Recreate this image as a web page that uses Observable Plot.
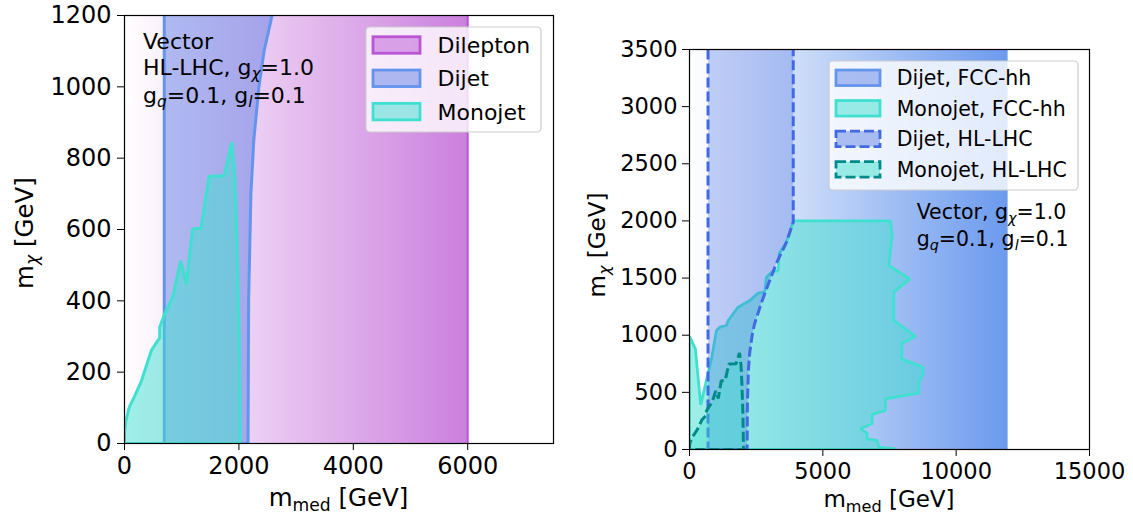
<!DOCTYPE html>
<html><head><meta charset="utf-8">
<script src="https://cdn.jsdelivr.net/npm/d3@7"></script>
<script src="https://cdn.jsdelivr.net/npm/@observablehq/plot@0.6"></script>
<style>
body{margin:0;background:#fff;}
#wrap{position:relative;width:1133px;height:515px;overflow:hidden;font-family:"DejaVu Sans",sans-serif;}
.panel{position:absolute;top:0;}
</style></head><body><div id="wrap"></div>
<script>
// ---------- data ----------
const leftXDomain = [0, 7500];
const leftYDomain = [0, 1200];
const leftXTicks = [0, 2000, 4000, 6000];
const leftYTicks = [0, 200, 400, 600, 800, 1000, 1200];
const rightXDomain = [0, 15000];
const rightYDomain = [0, 3500];
const rightXTicks = [0, 5000, 10000, 15000];
const rightYTicks = [0, 500, 1000, 1500, 2000, 2500, 3000, 3500];

// Dilepton (HL-LHC) excluded m_med range
const dileptonRange = [0, 6000];
// Dijet FCC-hh excluded m_med range
const dijetFCCRange = [0, 11900];

// Dijet HL-LHC: lower m_med edge and upper boundary curve
const dijetHLLow = 695;
const dijetHLCurveY = [0, 400, 700, 850, 1000, 1100, 1200, 1300, 1450, 1630, 1810, 1990, 3500];
const dijetHLCurveX = [2160, 2170, 2210, 2260, 2350, 2440, 2580, 2720, 2960, 3260, 3630, 3890, 3890];

// Monojet HL-LHC contour
const monoHLX = [0, 0, 20, 75, 90, 175, 295, 470, 615, 615, 700, 840, 985, 1080, 1190, 1335, 1480, 1745, 1875, 1930, 1960, 1985, 2005, 2025, 0];
const monoHLY = [0, 30, 60, 97, 104, 132, 175, 261, 296, 326, 363, 410, 513, 447, 602, 602, 749, 751, 845, 740, 600, 440, 300, 0, 0];

// Monojet FCC-hh contour
const monoFCCX = [0, 0, 220, 420, 830, 1012, 1137, 1387, 1450, 1825, 2262, 2575, 2825, 2887, 3075, 3325, 3362, 3637, 3900, 7537, 7600, 7475, 8262, 7662, 7662, 8475, 7975, 7950, 8762, 8762, 8600, 8600, 7350, 7350, 6850, 6850, 6412, 6662, 6662, 7037, 7100, 7725, 7725, 0];
const monoFCCY = [0, 990, 880, 390, 800, 1041, 1070, 1085, 1129, 1245, 1304, 1368, 1377, 1508, 1552, 1566, 1712, 1814, 2000, 2000, 1872, 1610, 1493, 1377, 1129, 989, 930, 793, 720, 662, 589, 493, 443, 341, 306, 225, 181, 143, 93, 79, 20, 6, 0, 0];

// ---------- build ----------
const pts = (xs, ys) => xs.map((x, i) => ({x, y: ys[i]}));
const topY = dijetHLCurveY[dijetHLCurveY.length - 1];
const dijetCurve = pts(dijetHLCurveX, dijetHLCurveY);
// closed polygon for fill
const dijetHL = [{x: dijetHLLow, y: 0}, {x: dijetHLLow, y: topY}]
  .concat(dijetCurve.slice().reverse())
  .concat([{x: dijetHLLow, y: 0}]);
// outline without the top edge
const dijetHLEdge = [{x: dijetHLLow, y: topY}, {x: dijetHLLow, y: 0}].concat(dijetCurve);
const monoHL = pts(monoHLX, monoHLY);
const monoFCC = pts(monoFCCX, monoFCCY);
const fmt = d3.format("d");

const wrap = d3.select("#wrap");

function addGradient(svg, id, color, op) {
  let defs = d3.select(svg).select("defs");
  if (defs.empty()) defs = d3.select(svg).insert("defs", ":first-child");
  const g = defs.append("linearGradient").attr("id", id)
    .attr("x1", 0).attr("x2", 1).attr("y1", 0).attr("y2", 0);
  g.append("stop").attr("offset", 0).attr("stop-color", color).attr("stop-opacity", 0);
  g.append("stop").attr("offset", 1).attr("stop-color", color).attr("stop-opacity", op);
}

function rich(sel, parts, size) {
  parts.forEach(p => {
    const ts = sel.append("tspan").text(p.t);
    if (p.sub) ts.attr("font-size", (size * 0.7) + "px").attr("baseline-shift", (-size * 0.2) + "px");
    if (p.it) ts.attr("font-style", "italic");
  });
}

function textLine(svg, x, y, parts, size, anchor = "start", rotate = false) {
  const t = d3.select(svg).append("text")
    .attr("font-family", "'DejaVu Sans', sans-serif")
    .attr("font-size", size + "px").attr("fill", "black")
    .attr("text-anchor", anchor);
  if (rotate) t.attr("transform", `translate(${x},${y}) rotate(-90)`);
  else t.attr("x", x).attr("y", y);
  rich(t, parts, size);
}

function legend(svg, box, entries, opt) {
  const g = d3.select(svg).append("g");
  g.append("rect").attr("x", box[0]).attr("y", box[1]).attr("width", box[2]).attr("height", box[3])
    .attr("rx", 4).attr("fill", "white").attr("fill-opacity", 0.8)
    .attr("stroke", "#cccccc").attr("stroke-width", 1.2);
  entries.forEach((e, i) => {
    const cy = opt.y0 + i * opt.dy;
    g.append("rect").attr("x", opt.px).attr("y", cy - opt.ph / 2).attr("width", opt.pw).attr("height", opt.ph)
      .attr("fill", e.fill).attr("fill-opacity", e.fo)
      .attr("stroke", e.stroke).attr("stroke-width", 2.8)
      .attr("stroke-dasharray", e.dash || null);
    g.append("text").attr("x", opt.tx).attr("y", cy + opt.size * 0.36)
      .attr("text-anchor", "start")
      .attr("font-family", "'DejaVu Sans', sans-serif").attr("font-size", opt.size + "px")
      .attr("fill", "black").text(e.label);
  });
}

// ---------- left panel ----------
const left = Plot.plot({
  width: 566, height: 515,
  marginLeft: 124, marginRight: 13, marginTop: 15, marginBottom: 72,
  x: {domain: leftXDomain},
  y: {domain: leftYDomain},
  style: {fontFamily: "'DejaVu Sans', sans-serif", fontSize: "24px", color: "black", background: "none", overflow: "visible"},
  marks: [
    Plot.rect([0], {x1: () => dileptonRange[0], x2: () => dileptonRange[1], y1: () => leftYDomain[0], y2: () => leftYDomain[1],
      fill: "url(#gDilep)"}),
    Plot.ruleX([dileptonRange[1]], {stroke: "mediumorchid", strokeWidth: 2}),
    Plot.line(dijetHL, {x: "x", y: "y", fill: "royalblue", fillOpacity: 0.4, stroke: "cornflowerblue", strokeWidth: 3, strokeLinejoin: "miter", clip: true}),
    Plot.line(monoHL, {x: "x", y: "y", fill: "turquoise", fillOpacity: 0.5, stroke: "turquoise", strokeWidth: 3, strokeLinejoin: "miter", clip: true}),
    Plot.frame({stroke: "black", strokeWidth: 1.2}),
    Plot.axisX({ticks: leftXTicks, tickSize: 7, tickPadding: 6, tickFormat: fmt, label: null}),
    Plot.axisY({ticks: leftYTicks, tickSize: 7, tickPadding: 6, tickFormat: fmt, label: null})
  ]
});
addGradient(left, "gDilep", "mediumorchid", 0.75);
textLine(left, 143, 49, [{t: "Vector"}], 22);
textLine(left, 143, 75, [{t: "HL-LHC, g"}, {t: "χ", sub: true, it: true}, {t: "=1.0"}], 22);
textLine(left, 143, 103, [{t: "g"}, {t: "q", sub: true, it: true}, {t: "=0.1, g"}, {t: "l", sub: true, it: true}, {t: "=0.1"}], 22);
legend(left, [366, 27, 175, 105], [
  {label: "Dilepton", fill: "mediumorchid", fo: 0.5, stroke: "mediumorchid"},
  {label: "Dijet", fill: "royalblue", fo: 0.4, stroke: "cornflowerblue"},
  {label: "Monojet", fill: "turquoise", fo: 0.5, stroke: "turquoise"}
], {y0: 45, dy: 33.3, px: 373, pw: 47, ph: 16.5, tx: 437.5, size: 22});
textLine(left, 338.5, 506, [{t: "m"}, {t: "med", sub: true}, {t: " [GeV]"}], 24.5, "middle");
textLine(left, 33, 233, [{t: "m"}, {t: "χ", sub: true, it: true}, {t: " [GeV]"}], 24.5, "middle", true);

// ---------- right panel ----------
const right = Plot.plot({
  width: 567, height: 515,
  marginLeft: 123, marginRight: 44, marginTop: 49, marginBottom: 66,
  x: {domain: rightXDomain},
  y: {domain: rightYDomain},
  style: {fontFamily: "'DejaVu Sans', sans-serif", fontSize: "22.5px", color: "black", background: "none", overflow: "visible"},
  marks: [
    Plot.rect([0], {x1: () => dijetFCCRange[0], x2: () => dijetFCCRange[1], y1: () => rightYDomain[0], y2: () => rightYDomain[1],
      fill: "url(#gFCC)"}),
    Plot.ruleX([dijetFCCRange[1]], {stroke: "cornflowerblue", strokeWidth: 1.5}),
    Plot.line(monoFCC, {x: "x", y: "y", fill: "turquoise", fillOpacity: 0.5, stroke: "turquoise", strokeWidth: 2.8, strokeLinejoin: "miter", clip: true}),
    Plot.line(dijetHL, {x: "x", y: "y", fill: "royalblue", fillOpacity: 0.3, stroke: "none", clip: true}),
    Plot.line(dijetHLEdge, {x: "x", y: "y", stroke: "royalblue", strokeWidth: 3, strokeDasharray: "10,4", strokeLinecap: "butt", strokeLinejoin: "miter", clip: true}),
    Plot.line(monoHL, {x: "x", y: "y", fill: "turquoise", fillOpacity: 0.4, stroke: "darkcyan", strokeWidth: 3, strokeDasharray: "10,4", strokeLinecap: "butt", strokeLinejoin: "miter", clip: true}),
    Plot.frame({stroke: "black", strokeWidth: 1.2}),
    Plot.axisX({ticks: rightXTicks, tickSize: 7, tickPadding: 7, tickFormat: fmt, label: null}),
    Plot.axisY({ticks: rightYTicks, tickSize: 7, tickPadding: 5, tickFormat: fmt, label: null})
  ]
});
addGradient(right, "gFCC", "cornflowerblue", 0.95);
legend(right, [829 - 566, 61, 249, 129], [
  {label: "Dijet, FCC-hh", fill: "royalblue", fo: 0.4, stroke: "cornflowerblue"},
  {label: "Monojet, FCC-hh", fill: "turquoise", fo: 0.5, stroke: "turquoise"},
  {label: "Dijet, HL-LHC", fill: "royalblue", fo: 0.4, stroke: "royalblue", dash: "10,4"},
  {label: "Monojet, HL-LHC", fill: "turquoise", fo: 0.5, stroke: "darkcyan", dash: "10,4"}
], {y0: 77.8, dy: 30.5, px: 836 - 566, pw: 44, ph: 15.5, tx: 896.7 - 566, size: 20.5});
textLine(right, 916.7 - 566, 219.3, [{t: "Vector, g"}, {t: "χ", sub: true, it: true}, {t: "=1.0"}], 20.5);
textLine(right, 916.7 - 566, 246, [{t: "g"}, {t: "q", sub: true, it: true}, {t: "=0.1, g"}, {t: "l", sub: true, it: true}, {t: "=0.1"}], 20.5);
textLine(right, 889 - 566, 507, [{t: "m"}, {t: "med", sub: true}, {t: " [GeV]"}], 23, "middle");
textLine(right, 605 - 566, 245, [{t: "m"}, {t: "χ", sub: true, it: true}, {t: " [GeV]"}], 23, "middle", true);

wrap.append("div").attr("class", "panel").style("left", "0px").node().appendChild(left);
wrap.append("div").attr("class", "panel").style("left", "566px").node().appendChild(right);
</script></body></html>
